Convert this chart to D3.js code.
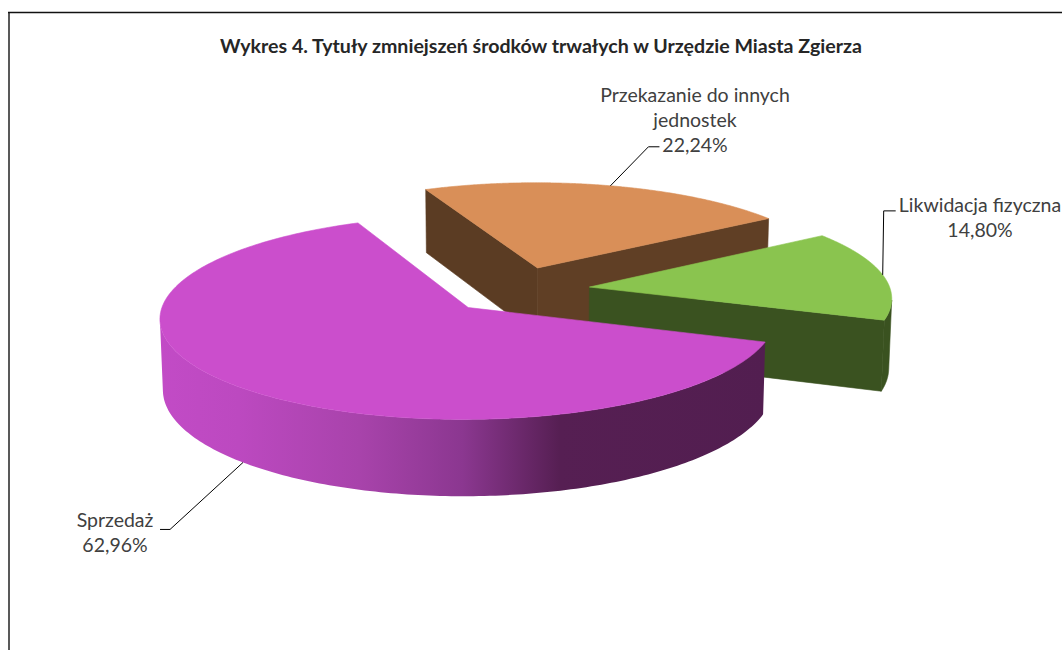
<!DOCTYPE html>
<html>
<head>
<meta charset="utf-8">
<script src="https://cdn.jsdelivr.net/npm/d3@7"></script>
<style>
  body { margin: 0; background: #fff; }
  svg { display: block; }
</style>
</head>
<body>
<svg id="chart"></svg>
<script>
// data
const title = "Wykres 4. Tytuły zmniejszeń środków trwałych w Urzędzie Miasta Zgierza";
const categories = ["Przekazanie do innych jednostek", "Likwidacja fizyczna", "Sprzedaż"];
const values = [22.24, 14.80, 62.96];
const valueLabels = ["22,24%", "14,80%", "62,96%"];
const labelLines = [["Przekazanie do innych", "jednostek"], ["Likwidacja fizyczna"], ["Sprzedaż"]];
const topColors = ["#D98F58", "#8AC44F", "#CB4ECC"];
const sideColors = ["#603F25", "#3A5220", "url(#purpleSide)"];

const width = 1062, height = 650;

const svg = d3.select("#chart")
    .attr("width", width)
    .attr("height", height);

// chart frame (only left and top edge visible in the picture)
svg.append("line")
    .attr("x1", 9).attr("y1", 12).attr("x2", 9).attr("y2", height)
    .attr("stroke", "#595959").attr("stroke-width", 2);
svg.append("line")
    .attr("x1", 8).attr("y1", 12.5).attr("x2", width).attr("y2", 12.5)
    .attr("stroke", "#111").attr("stroke-width", 1.3);

svg.append("text")
    .attr("x", 541).attr("y", 53)
    .attr("text-anchor", "middle")
    .style("font-family", "Lato, 'Open Sans', sans-serif")
    .style("font-weight", "bold")
    .style("font-size", "19.6px")
    .attr("fill", "#262626")
    .text(title);

// 3d view
const view = {
    cx: 518, cy: 290,
    f: 2950, D: 9.8,
    tilt: 18.9 * Math.PI / 180,
    depth: 0.245,
    explode: 0.24
};
const cosT = Math.cos(view.tilt), sinT = Math.sin(view.tilt);

function project(X, Y, Z) {
    const u = Y * cosT - Z * sinT;
    const d = view.D - (Z * cosT + Y * sinT);
    return [view.cx + view.f * X / d, view.cy - view.f * u / d];
}

const pie = d3.pie()
    .sort(null)
    .value(d => d)
    .startAngle(-24 * Math.PI / 180)
    .endAngle(336 * Math.PI / 180);

const slices = pie(values).map((a, i) => {
    const mid = (a.startAngle + a.endAngle) / 2;
    const ox = view.explode * Math.sin(mid);
    const oz = -view.explode * Math.cos(mid);
    const pt = (theta, r, Y) => project(ox + r * Math.sin(theta), Y, oz - r * Math.cos(theta));
    return { i, a0: a.startAngle, a1: a.endAngle, mid, ox, oz, pt };
});

function area(poly) {
    let s = 0;
    for (let k = 0; k < poly.length; k++) {
        const p = poly[k], q = poly[(k + 1) % poly.length];
        s += p[0] * q[1] - q[0] * p[1];
    }
    return s / 2;
}

const line = d3.line();
const H = -view.depth;
const steps = 240;

const defs = svg.append("defs");
const pieG = svg.append("g");

// back to front
slices.slice().sort((a, b) => a.oz - b.oz).forEach(s => {
    const g = pieG.append("g");
    const side = sideColors[s.i];
    const top = topColors[s.i];

    // radial walls
    const apexT = s.pt(0, 0, 0), apexB = s.pt(0, 0, H);
    const w0 = [apexT, s.pt(s.a0, 1, 0), s.pt(s.a0, 1, H), apexB];
    const w1 = [s.pt(s.a1, 1, 0), apexT, apexB, s.pt(s.a1, 1, H)];
    [w0, w1].forEach((w, k) => {
        if (area(w) < 0) {
            const c = k === 0 ? d3.color(side).darker(0.15) : side;
            g.append("path")
                .attr("d", line(w) + "Z")
                .attr("fill", c)
                .attr("stroke", c)
                .attr("stroke-width", 0.6);
        }
    });

    // outer wall, only the part facing the viewer
    const thetas = d3.range(steps + 1).map(k => s.a0 + (s.a1 - s.a0) * k / steps);
    let run = [];
    const runs = [];
    for (let k = 0; k < steps; k++) {
        const q = [s.pt(thetas[k], 1, 0), s.pt(thetas[k + 1], 1, 0), s.pt(thetas[k + 1], 1, H), s.pt(thetas[k], 1, H)];
        if (area(q) < 0) {
            if (!run.length) run.push(thetas[k]);
            run.push(thetas[k + 1]);
        } else if (run.length) { runs.push(run); run = []; }
    }
    if (run.length) runs.push(run);

    runs.forEach(r => {
        const topPts = r.map(t => s.pt(t, 1, 0));
        const botPts = r.map(t => s.pt(t, 1, H)).reverse();
        const pts = topPts.concat(botPts);
        if (s.i === 2) {
            const xs = pts.map(p => p[0]);
            const grad = defs.append("linearGradient")
                .attr("id", "purpleSide")
                .attr("gradientUnits", "userSpaceOnUse")
                .attr("x1", d3.min(xs)).attr("x2", d3.max(xs))
                .attr("y1", 0).attr("y2", 0);
            [[0, "#C24BC6"], [0.13, "#BC49C0"], [0.33, "#A843AB"], [0.5, "#8B3790"], [0.66, "#561F53"], [1, "#521E50"]]
                .forEach(st => grad.append("stop").attr("offset", st[0]).attr("stop-color", st[1]));
        }
        g.append("path")
            .attr("d", line(pts) + "Z")
            .attr("fill", side)
            .attr("stroke", s.i === 2 ? "none" : side)
            .attr("stroke-width", 0.6);
    });

    // top face
    const topFace = [apexT].concat(thetas.map(t => s.pt(t, 1, 0)));
    g.append("path")
        .attr("d", line(topFace) + "Z")
        .attr("fill", top)
        .attr("stroke", top)
        .attr("stroke-width", 0.6);
});

// data labels with leader lines
const labelLayout = [
    { elbow: [38, -39], tail: 11, tx: 695, ty: 102 },
    { elbow: [1, -64], tail: 12, tx: 980, ty: 212 },
    { elbow: [-73, 67], tail: -10, tx: 115, ty: 527 }
];
const lineH = 25;

slices.forEach(s => {
    const front = Math.cos(s.mid) < 0;
    const start = s.pt(s.mid, 1, front ? H : 0);
    const lay = labelLayout[s.i];
    const elbow = [start[0] + lay.elbow[0], start[1] + lay.elbow[1]];
    const end = [elbow[0] + lay.tail, elbow[1]];
    svg.append("path")
        .attr("d", line([start, elbow, end]))
        .attr("fill", "none")
        .attr("stroke", "#000")
        .attr("stroke-width", 1);

    const lines = labelLines[s.i].concat([valueLabels[s.i]]);
    const t = svg.append("text")
        .attr("text-anchor", "middle")
        .style("font-family", "Lato, 'Open Sans', sans-serif")
        .style("font-size", "19.5px")
        .attr("fill", "#404040");
    lines.forEach((l, k) => {
        t.append("tspan")
            .attr("x", lay.tx)
            .attr("y", lay.ty + k * lineH)
            .text(l);
    });
});
</script>
</body>
</html>
